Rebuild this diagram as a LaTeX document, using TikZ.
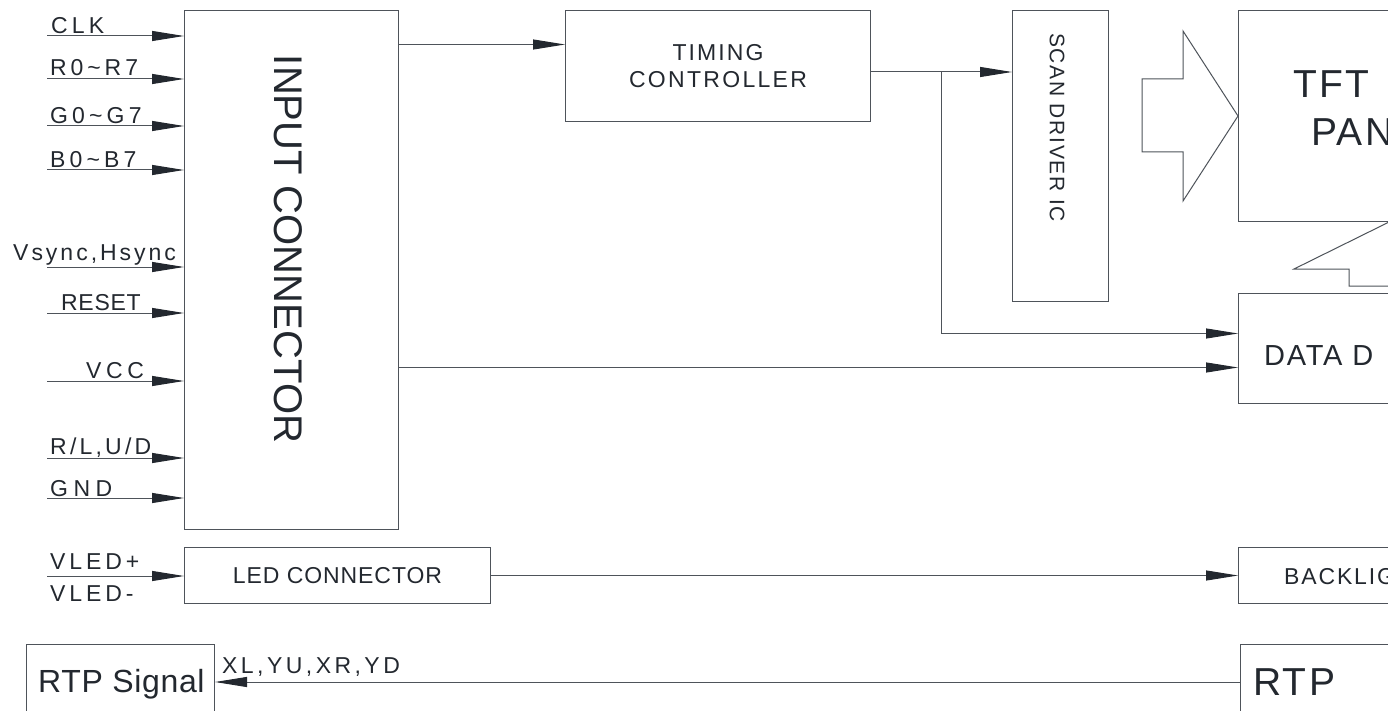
\documentclass[tikz,border=0pt]{standalone}
\usepackage{fontspec}
\setmainfont{Liberation Sans}
\newfontfamily\plainfont{Liberation Sans}
\newcommand\lsp[2]{{\addfontfeature{LetterSpace=#1}#2}}
\usetikzlibrary{arrows.meta}
\definecolor{ink}{HTML}{23282F}
\definecolor{wire}{HTML}{4E535A}
\begin{document}
\begin{tikzpicture}[x=1pt,y=-1pt,
  box/.style={draw=wire, line width=1pt, anchor=north west, inner sep=0pt, fill=white},
  arr/.style={draw=wire, line width=1pt, -{Triangle[length=32pt,width=10pt,color=ink]}},
  wireline/.style={draw=wire, line width=1pt},
  lbl/.style={font=\plainfont\fontsize{23}{28}\selectfont, text=ink, inner sep=0pt},
  big/.style={font=\plainfont\fontsize{39}{44}\selectfont, text=ink, inner sep=0pt},
  mid/.style={font=\plainfont\fontsize{29}{34}\selectfont, text=ink, inner sep=0pt}]
\useasboundingbox (0,0) rectangle (1388,711);
\clip (0,0) rectangle (1388,711);
\fill[white] (0,0) rectangle (1388,711);

% boxes
\node[box, minimum width=214, minimum height=519] (ic) at (184,10) {};
\node[font=\plainfont\fontsize{40}{44}\selectfont, text=ink, inner sep=0pt, rotate=-90] (ictext) at (288,249) {INPUT CONNECTOR};
\node[box, minimum width=305, minimum height=111, align=center, lbl] (tc) at (565,10) {\lsp{9}{TIMING}\\[-1pt]\lsp{10}{CONTROLLER}};
\node[box, minimum width=96, minimum height=291] (sd) at (1012,10) {};
\node[font=\plainfont\fontsize{21}{24}\selectfont, text=ink, inner sep=0pt, rotate=-90] (sdtext) at (1057,127.5) {\lsp{8}{SCAN DRIVER IC}};
\node[box, minimum width=200, minimum height=211] (tft) at (1238,10) {};
\node[big, anchor=base west] (tft1) at (1293,98) {\lsp{6}{TFT}};
\node[big, anchor=base west] (tft2) at (1311,146) {\lsp{6}{PAN}};
\node[box, minimum width=200, minimum height=110] (dd) at (1238,293) {};
\node[mid, anchor=base west] (ddtext) at (1264,365) {\lsp{6}{DATA D}};
\node[box, minimum width=306, minimum height=56, lbl] (led) at (184,547) {\lsp{4}{LED CONNECTOR}};
\node[box, minimum width=200, minimum height=56] (bl) at (1238,547) {};
\node[lbl, anchor=base west] (bltext) at (1284,584) {\lsp{8}{BACKLIG}};
\node[box, minimum width=188, minimum height=100] (rs) at (26,644) {};
\node[font=\plainfont\fontsize{32}{36}\selectfont, text=ink, inner sep=0pt, anchor=base west] (rstext) at (38,692) {\lsp{2}{RTP Signal}};
\node[box, minimum width=200, minimum height=100] (rtp) at (1240,644) {};
\node[big, anchor=base west] (rtptext) at (1253,695) {\lsp{6}{RTP}};

% input signals
\coordinate (iCLK) at (47,36);
\coordinate (iR) at (47,79);
\coordinate (iG) at (47,126);
\coordinate (iB) at (47,170);
\coordinate (iV) at (47,267);
\coordinate (iRST) at (47,313);
\coordinate (iVCC) at (47,381);
\coordinate (iRL) at (47,458);
\coordinate (iGND) at (47,498);
\coordinate (iLED) at (47,576);
\foreach \c in {iCLK,iR,iG,iB,iV,iRST,iVCC,iRL,iGND}{
  \draw[arr] (\c) -- (\c -| ic.west);
}
\draw[arr] (iLED) -- (iLED -| led.west);

\node[lbl, anchor=base west] (lCLK) at (51,34) {\lsp{18}{CLK}};
\node[lbl, anchor=base west] (lR) at (50,76) {\lsp{17}{R0\textasciitilde R7}};
\node[lbl, anchor=base west] (lG) at (50,124) {\lsp{18}{G0\textasciitilde G7}};
\node[lbl, anchor=base west] (lB) at (50,168) {\lsp{18}{B0\textasciitilde B7}};
\node[lbl, anchor=base west] (lV) at (13,261) {\lsp{13}{Vsync,Hsync}};
\node[lbl, anchor=base west] (lRST) at (61,310) {\lsp{3}{RESET}};
\node[lbl, anchor=base west] (lVCC) at (86,378) {\lsp{20}{VCC}};
\node[lbl, anchor=base west] (lRL) at (50,454) {\lsp{14}{R/L,U/D}};
\node[lbl, anchor=base west] (lGND) at (50,496) {\lsp{24}{GND}};
\node[lbl, anchor=base west] (lLP) at (50,569) {\lsp{17}{VLED+}};
\node[lbl, anchor=base west] (lLM) at (50,601) {\lsp{17}{VLED-}};

% internal connections
\coordinate (tcin) at ([yshift=21.5pt]tc.west);
\draw[arr] (ic.east |- tcin) -- (tcin);
\coordinate (j) at (941,72);
\draw[wireline] (tc.east |- j) -- (j);
\draw[arr] (j) -- (j -| sd.west);
\coordinate (dd1) at ([yshift=15pt]dd.west);
\coordinate (dd2) at ([yshift=-19pt]dd.west);
\draw[arr] (j) |- (dd1);
\draw[arr] (ic.east |- dd2) -- (dd2);
\draw[arr] (led.east) -- (bl.west);
\coordinate (rtpout) at ([yshift=-38pt]rtp.north west);
\coordinate (rsin) at ([yshift=-38pt]rs.north east);
\draw[arr] (rtpout) -- (rsin);
\node[lbl, anchor=base west] (lXY) at (222,673) {\lsp{15}{XL,YU,XR,YD}};

% hollow arrows
\draw[wireline, line join=miter] (1142,79) -- (1183,79) -- (1183,31) -- (tft.west) -- (1183,201) -- (1183,152) -- (1142,152) -- cycle;
\draw[wireline, line join=miter] (1400,216.6) -- (1294,269) -- (1349,269) -- (1349,286) -- (1400,286);
\end{tikzpicture}
\end{document}
